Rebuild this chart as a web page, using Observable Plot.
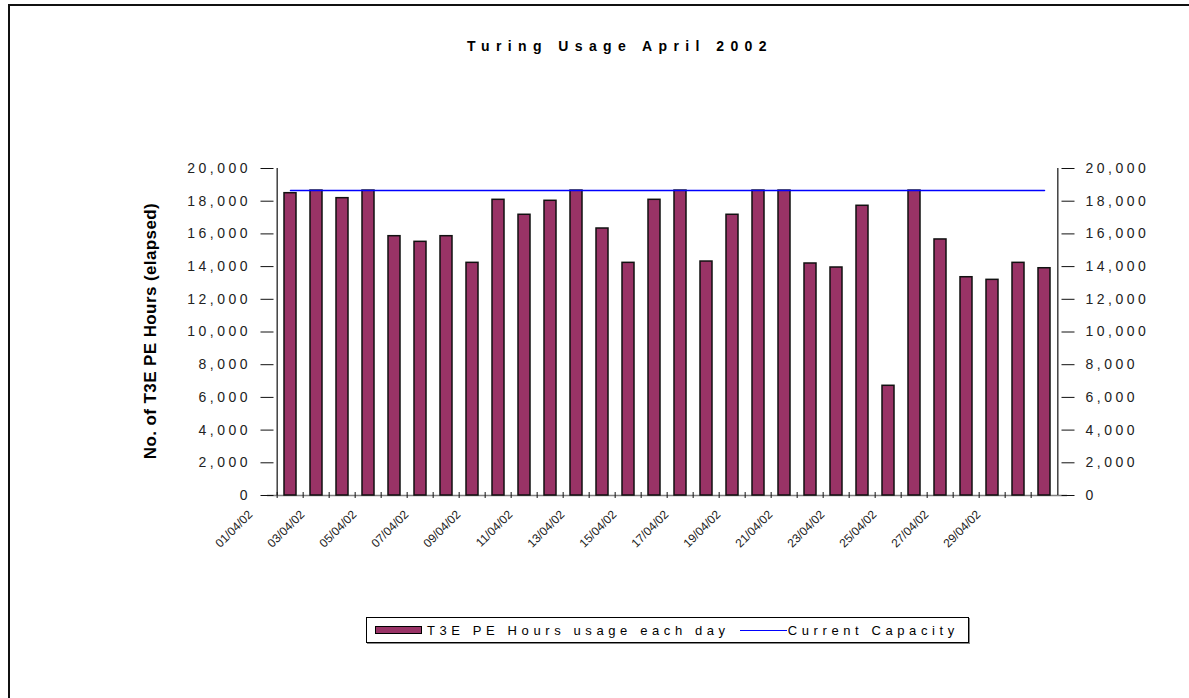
<!DOCTYPE html>
<html><head><meta charset="utf-8">
<script src="https://cdn.jsdelivr.net/npm/d3@7"></script>
<script src="https://cdn.jsdelivr.net/npm/@observablehq/plot@0.6"></script>
<style>
body{margin:0;background:#fff;font-family:"Liberation Sans",Arial,sans-serif;}
#wrap{position:relative;width:1189px;height:698px;overflow:hidden;background:#fff;}
#border{position:absolute;left:8px;top:4px;width:1300px;height:800px;border-left:2px solid #111;border-top:2px solid #111;}
#title{position:absolute;left:0;width:1240px;top:38px;text-align:center;font-weight:bold;font-size:14px;letter-spacing:6.4px;color:#000;}
#chart{position:absolute;left:0;top:120px;}
#legend{position:absolute;left:366px;top:617px;width:601px;height:24px;border:1px solid #000;box-shadow:1px 1px 0 #888;display:flex;align-items:center;font-size:13px;letter-spacing:4.6px;color:#000;white-space:nowrap;}
#legend .sw{display:inline-block;width:45px;height:6px;background:#993366;border:1px solid #000;margin-left:8px;margin-right:5px;}
#legend .ln{display:inline-block;width:47px;height:0;border-top:1.5px solid #0000ff;margin-left:10px;margin-right:1px;}
g[aria-label="y-axis tick label"] text{letter-spacing:3.5px;}
g[aria-label="x-axis tick label"] text{font-size:12px;}
g[aria-label="text"] text{letter-spacing:0.4px;}
</style>
</head><body>
<div id="wrap">
  <div id="border"></div>
  <div id="title">Turing Usage April 2002</div>
  <div id="chart"></div>
  <div id="legend"><span class="sw"></span><span>T3E PE Hours usage each day</span><span class="ln"></span><span>Current Capacity</span></div>
</div>
<script>
const days = ["01/04/02","02/04/02","03/04/02","04/04/02","05/04/02","06/04/02","07/04/02","08/04/02","09/04/02","10/04/02",
  "11/04/02","12/04/02","13/04/02","14/04/02","15/04/02","16/04/02","17/04/02","18/04/02","19/04/02","20/04/02",
  "21/04/02","22/04/02","23/04/02","24/04/02","25/04/02","26/04/02","27/04/02","28/04/02","29/04/02","30/04/02"];
const usage = [18490,18650,18185,18650,15860,15515,15860,14230,18085,17170,
  18025,18650,16330,14230,18085,18650,14310,17170,18650,18650,
  14190,13945,17720,6710,18650,15660,13350,13190,14230,13900];
const capacity = 18650;
const xLabels = ["01/04/02","03/04/02","05/04/02","07/04/02","09/04/02","11/04/02","13/04/02","15/04/02",
  "17/04/02","19/04/02","21/04/02","23/04/02","25/04/02","27/04/02","29/04/02"];
const yTicks = [0,2000,4000,6000,8000,10000,12000,14000,16000,18000,20000];
const yTitle = "No. of T3E PE Hours (elapsed)";

const table = days.map((d,i)=>({day:d, usage:usage[i], capacity}));
const step = 800/30;

const chart = Plot.plot({
  width:1189, height:480,
  marginLeft:267, marginRight:122, marginTop:48, marginBottom:105,
  x:{type:"band", domain:days, paddingInner:0.52, paddingOuter:0.26, label:null},
  y:{domain:[0,20000], label:null},
  style:{fontFamily:"'Liberation Sans', Arial, sans-serif", fontSize:"14px", color:"#000", background:"transparent"},
  marks:[
    Plot.ruleY([0], {stroke:"#808080", strokeWidth:1.5}),
    Plot.barY(table, {x:"day", y:"usage", fill:"#993366", stroke:"#111", strokeWidth:1.5}),
    Plot.lineY(table, {x:"day", y:"capacity", stroke:"#0000ff", strokeWidth:1.5}),
    Plot.ruleX([days[0]], {y1:0, y2:20000, dx:-step/2, stroke:"#111", strokeWidth:1.2}),
    Plot.ruleX([days[days.length-1]], {y1:0, y2:20000, dx:step/2, stroke:"#111", strokeWidth:1.2}),
    Plot.axisX({ticks:days, tickSize:6, tickFormat:()=>"", dx:-step/2, dy:-3, label:null, stroke:"#111"}),
    Plot.axisX({ticks:xLabels, tickSize:0, tickPadding:17, tickRotate:-45, dx:-40, label:null, fill:"#222"}),
    Plot.axisY({anchor:"left", ticks:yTicks, tickSize:13, dx:6.5, tickFormat:()=>"", label:null, stroke:"#111"}),
    Plot.axisY({anchor:"left", ticks:yTicks, tickSize:0, tickPadding:16.5, tickFormat:d3.format(","), label:null, fill:"#222"}),
    Plot.axisY({anchor:"right", ticks:yTicks, tickSize:13, dx:-6.5, tickFormat:()=>"", label:null, stroke:"#111"}),
    Plot.axisY({anchor:"right", ticks:yTicks, tickSize:0, tickPadding:18, tickFormat:d3.format(","), label:null, fill:"#222"}),
    Plot.text([yTitle], {frameAnchor:"left", textAnchor:"middle", rotate:-90, dx:-117, dy:-1, fontWeight:"bold", fontSize:17, fill:"#000"})
  ]
});
document.getElementById("chart").appendChild(chart);
</script>
</body></html>
